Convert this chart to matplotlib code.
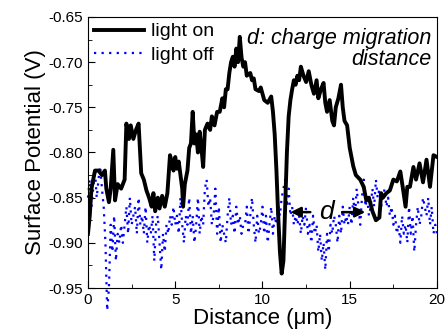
import numpy as np
import matplotlib
matplotlib.use('Agg')
import matplotlib.pyplot as plt

plt.rcParams['font.family'] = ['Liberation Sans', 'DejaVu Sans']
plt.rcParams['axes.unicode_minus'] = False

# light on (solid black)
x_on = [0.0, 0.1, 0.2, 0.3, 0.4, 0.6, 0.8, 0.97, 1.05, 1.2, 1.3, 1.45, 1.55, 1.7, 1.9,
        2.1, 2.2, 2.35, 2.45, 2.6, 2.75, 2.9, 3.05, 3.2, 3.35, 3.5, 3.65, 3.75, 3.85,
        4.0, 4.1, 4.25, 4.4, 4.55, 4.7, 4.8, 4.9, 5.0, 5.1, 5.2, 5.3, 5.4, 5.45, 5.55,
        5.7, 5.8, 5.9, 6.0, 6.1, 6.2, 6.3, 6.4, 6.5, 6.6, 6.7, 6.85, 7.0, 7.1, 7.25,
        7.4, 7.55, 7.7, 7.8, 7.9, 8.0, 8.1, 8.2, 8.3, 8.4, 8.5, 8.6, 8.7, 8.8, 8.9,
        9.0, 9.1, 9.3, 9.4, 9.5, 9.6, 9.8, 9.9, 10.1, 10.3, 10.5, 10.6, 10.7, 10.8,
        10.9, 11.0, 11.1, 11.2, 11.3, 11.4, 11.5, 11.6, 11.7, 11.8, 11.9, 12.0, 12.1,
        12.2, 12.35, 12.5, 12.65, 12.8, 12.95, 13.1, 13.2, 13.35, 13.5, 13.6, 13.7,
        13.85, 14.0, 14.1, 14.2, 14.35, 14.5, 14.6, 14.7, 14.85, 15.0, 15.2, 15.35,
        15.5, 15.6, 15.8, 15.95, 16.1, 16.3, 16.5, 16.7, 16.8, 16.9, 17.1, 17.3, 17.5,
        17.7, 17.9, 18.05, 18.2, 18.3, 18.45, 18.65, 18.8, 19.0, 19.2, 19.4, 19.6,
        19.8, 20.0]
v_on = [-0.89, -0.87, -0.84, -0.83, -0.82, -0.82, -0.825, -0.82, -0.84, -0.855, -0.84,
        -0.797, -0.853, -0.835, -0.84, -0.83, -0.768, -0.785, -0.77, -0.785, -0.775,
        -0.768, -0.823, -0.83, -0.842, -0.85, -0.86, -0.845, -0.865, -0.85, -0.862,
        -0.848, -0.86, -0.845, -0.803, -0.81, -0.82, -0.805, -0.818, -0.81, -0.825,
        -0.84, -0.86, -0.835, -0.82, -0.795, -0.79, -0.755, -0.79, -0.78, -0.80,
        -0.777, -0.795, -0.816, -0.775, -0.768, -0.775, -0.76, -0.77, -0.755, -0.755,
        -0.74, -0.75, -0.73, -0.73, -0.712, -0.70, -0.694, -0.705, -0.685, -0.70,
        -0.672, -0.695, -0.705, -0.70, -0.715, -0.712, -0.72, -0.718, -0.73, -0.732,
        -0.728, -0.742, -0.745, -0.738, -0.755, -0.78, -0.82, -0.87, -0.91, -0.934,
        -0.92, -0.86, -0.80, -0.76, -0.742, -0.73, -0.72, -0.725, -0.715, -0.72,
        -0.705, -0.715, -0.722, -0.71, -0.725, -0.735, -0.72, -0.74, -0.73, -0.723,
        -0.745, -0.755, -0.742, -0.765, -0.77, -0.75, -0.74, -0.725, -0.75, -0.765,
        -0.77, -0.795, -0.815, -0.825, -0.828, -0.83, -0.838, -0.853, -0.85, -0.865,
        -0.875, -0.872, -0.845, -0.85, -0.845, -0.842, -0.83, -0.832, -0.821, -0.84,
        -0.86, -0.838, -0.838, -0.816, -0.83, -0.812, -0.833, -0.808, -0.838, -0.803,
        -0.805]

# light off (blue dotted), one value every 0.1 um
x_off = np.round(np.arange(0, 20.05, 0.1), 2)
v_off = [-0.85, -0.83, -0.86, -0.84, -0.82, -0.85, -0.83, -0.815, -0.84, -0.86,
         -0.90, -0.975, -0.95, -0.88, -0.91, -0.87, -0.92, -0.89, -0.90, -0.88,
         -0.90, -0.88, -0.86, -0.89, -0.85, -0.88, -0.87, -0.86, -0.89, -0.85,
         -0.88, -0.87, -0.89, -0.86, -0.90, -0.88, -0.89, -0.87, -0.92, -0.88,
         -0.87, -0.90, -0.93, -0.89, -0.91, -0.88, -0.89, -0.87, -0.88, -0.86,
         -0.88, -0.87, -0.89, -0.85, -0.88, -0.90, -0.87, -0.88, -0.85, -0.89,
         -0.87, -0.90, -0.88, -0.85, -0.89, -0.87, -0.88, -0.84, -0.83, -0.86,
         -0.85, -0.88, -0.87, -0.84, -0.89, -0.86, -0.90, -0.88, -0.89, -0.90,
         -0.87, -0.85, -0.88, -0.87, -0.89, -0.86, -0.88, -0.87, -0.89, -0.88,
         -0.88, -0.86, -0.89, -0.87, -0.85, -0.88, -0.90, -0.87, -0.89, -0.88,
         -0.86, -0.89, -0.87, -0.90, -0.88, -0.86, -0.89, -0.87, -0.88, -0.86,
         -0.87, -0.85, -0.84, -0.83, -0.86, -0.84, -0.87, -0.86, -0.88, -0.87,
         -0.88, -0.87, -0.89, -0.87, -0.88, -0.86, -0.89, -0.88, -0.90, -0.87,
         -0.89, -0.88, -0.91, -0.89, -0.92, -0.90, -0.93, -0.89, -0.91, -0.88,
         -0.89, -0.87, -0.88, -0.90, -0.87, -0.89, -0.86, -0.88, -0.87, -0.88,
         -0.86, -0.88, -0.85, -0.87, -0.84, -0.86, -0.88, -0.85, -0.83, -0.86,
         -0.85, -0.87, -0.86, -0.84, -0.86, -0.83, -0.85, -0.84, -0.86, -0.85,
         -0.84, -0.86, -0.85, -0.87, -0.86, -0.88, -0.87, -0.89, -0.88, -0.90,
         -0.87, -0.89, -0.88, -0.90, -0.86, -0.89, -0.87, -0.91, -0.88, -0.86,
         -0.88, -0.87, -0.85, -0.86, -0.87, -0.85, -0.88, -0.86, -0.89, -0.88,
         -0.89]

x_ticks = [0, 5, 10, 15, 20]
y_ticks = [-0.95, -0.90, -0.85, -0.80, -0.75, -0.70, -0.65]

fig = plt.figure(figsize=(4.48, 3.33), dpi=100)
ax = fig.add_axes([0.1964, 0.1351, 0.779, 0.8139])

ax.plot(x_off, v_off, linestyle=(0, (1, 2.4)), color='#0000ff', lw=1.6, clip_on=False,
        label='light off', zorder=2)
ax.plot(x_on, v_on, '-', color='black', lw=2.8, label='light on', zorder=3)

ax.set_xlim(0, 20)
ax.set_ylim(-0.95, -0.65)
ax.set_xticks(x_ticks)
ax.set_xticklabels([str(t) for t in x_ticks])
ax.set_yticks(y_ticks)
ax.set_yticklabels(['%.2f' % t for t in y_ticks])
ax.set_xticks(np.arange(2.5, 20, 5), minor=True)
ax.set_yticks(np.arange(-0.925, -0.65, 0.05), minor=True)
ax.tick_params(which='both', direction='in', top=False, right=False, labelsize=11)
ax.tick_params(which='major', length=5)
ax.tick_params(which='minor', length=3)

ax.set_xlabel('Distance (μm)', fontsize=16, labelpad=1)
ax.set_ylabel('Surface Potential (V)', fontsize=16, labelpad=2)

h, l = ax.get_legend_handles_labels()
ax.legend(h[::-1], l[::-1], loc='upper left', frameon=False, fontsize=14,
          handlelength=2.6, handletextpad=0.35, labelspacing=0.3,
          borderaxespad=0.1, borderpad=0.2)

ax.text(0.985, 0.96, 'd: charge migration\ndistance', transform=ax.transAxes,
        ha='right', va='top', fontsize=15.5, style='italic', linespacing=1.0)

ax.annotate('', xy=(11.45, -0.866), xytext=(12.9, -0.866),
            arrowprops=dict(arrowstyle='-|>', color='black', lw=1.8, mutation_scale=15))
ax.annotate('', xy=(16.05, -0.866), xytext=(14.4, -0.866),
            arrowprops=dict(arrowstyle='-|>', color='black', lw=1.8, mutation_scale=15))
ax.text(13.65, -0.866, 'd', fontsize=19, style='italic', ha='center', va='center')

fig.savefig('out.png', dpi=100)
